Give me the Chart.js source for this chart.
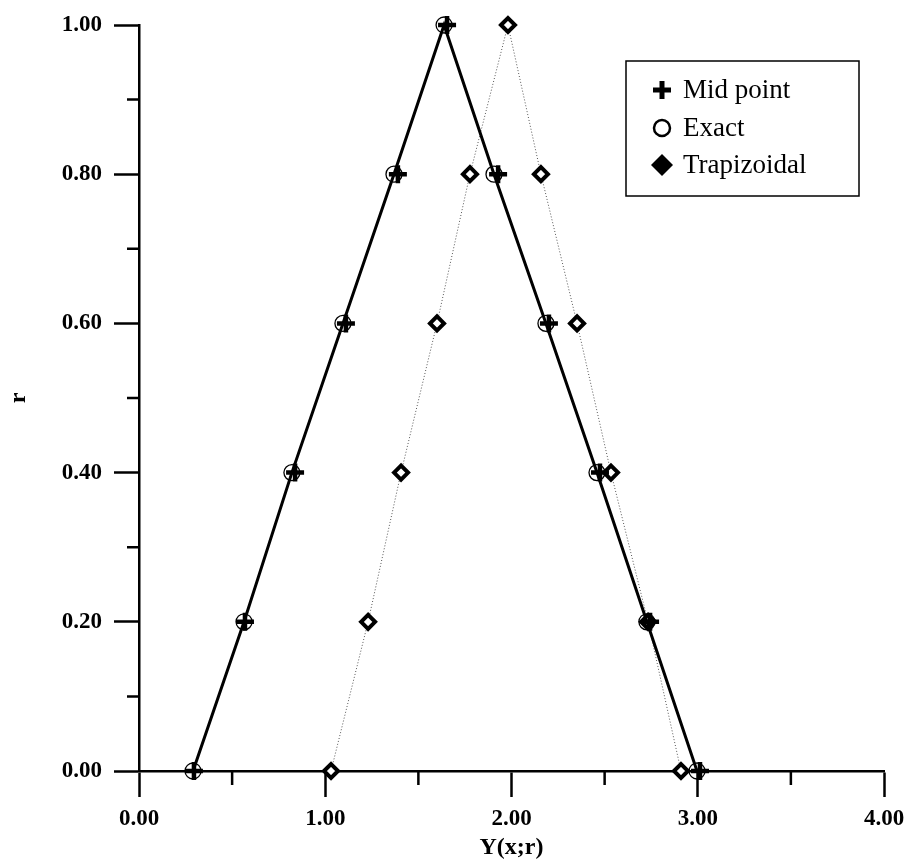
<!DOCTYPE html>
<html>
<head>
<meta charset="utf-8">
<script src="https://cdn.jsdelivr.net/npm/chart.js@4.4.0/dist/chart.umd.min.js"></script>
<style>
  html, body { margin: 0; padding: 0; background: #fff; }
  canvas { display: block; }
</style>
</head>
<body>
<canvas id="c" width="908" height="865"></canvas>
<script>
// ---- data ----
const rValues   = [0.0, 0.2, 0.4, 0.6, 0.8, 1.0, 0.8, 0.6, 0.4, 0.2, 0.0];
const midPointY = [0.295, 0.569, 0.838, 1.111, 1.390, 1.654, 1.928, 2.201, 2.475, 2.744, 3.012];
const exactY    = [0.290, 0.564, 0.821, 1.095, 1.369, 1.638, 1.906, 2.185, 2.459, 2.727, 2.996];
const trapY     = [1.031, 1.230, 1.407, 1.600, 1.777, 1.981, 2.158, 2.352, 2.534, 2.733, 2.910];
const seriesLabels = ['Mid point', 'Exact', 'Trapizoidal'];
const xTickValues = [0, 1, 2, 3, 4];
const yTickValues = [0, 0.2, 0.4, 0.6, 0.8, 1.0];
const xMinorTicks = [0.5, 1.5, 2.5, 3.5];
const yMinorTicks = [0.1, 0.3, 0.5, 0.7, 0.9];

const toPts = (xs) => xs.map((x, i) => ({ x: x, y: rValues[i] }));

const tickFont = { family: '"Liberation Serif", "Times New Roman", serif', size: 23, weight: 'bold' };
const titleFont = { family: '"Liberation Serif", "Times New Roman", serif', size: 24, weight: 'bold' };

const minorTicksPlugin = {
  id: 'minorTicks',
  afterDraw(chart) {
    const ctx = chart.ctx;
    const xs = chart.scales.x, ys = chart.scales.y;
    ctx.save();
    ctx.strokeStyle = '#000';
    ctx.lineWidth = 2.5;
    ctx.beginPath();
    xMinorTicks.forEach(v => {
      const px = xs.getPixelForValue(v);
      ctx.moveTo(px, ys.bottom);
      ctx.lineTo(px, ys.bottom + 14);
    });
    yMinorTicks.forEach(v => {
      const py = ys.getPixelForValue(v);
      ctx.moveTo(xs.left, py);
      ctx.lineTo(xs.left - 12, py);
    });
    ctx.stroke();
    ctx.restore();
  }
};

const legendPlugin = {
  id: 'customLegend',
  afterDraw(chart) {
    const ctx = chart.ctx;
    ctx.save();
    ctx.strokeStyle = '#000';
    ctx.lineWidth = 1.5;
    ctx.strokeRect(626, 61, 233, 135);
    const rows = [90, 128, 165];
    const mx = 662;
    ctx.fillStyle = '#000';
    ctx.strokeStyle = '#000';
    // plus
    ctx.lineWidth = 5;
    ctx.beginPath();
    ctx.moveTo(mx - 9, rows[0]); ctx.lineTo(mx + 9, rows[0]);
    ctx.moveTo(mx, rows[0] - 9); ctx.lineTo(mx, rows[0] + 9);
    ctx.stroke();
    // circle
    ctx.lineWidth = 2.5;
    ctx.beginPath();
    ctx.arc(mx, rows[1], 8, 0, Math.PI * 2);
    ctx.stroke();
    // diamond
    ctx.beginPath();
    ctx.moveTo(mx, rows[2] - 11);
    ctx.lineTo(mx + 11, rows[2]);
    ctx.lineTo(mx, rows[2] + 11);
    ctx.lineTo(mx - 11, rows[2]);
    ctx.closePath();
    ctx.fill();
    ctx.font = '27px "Liberation Serif", "Times New Roman", serif';
    ctx.textBaseline = 'middle';
    ctx.textAlign = 'left';
    seriesLabels.forEach((t, i) => ctx.fillText(t, 683, rows[i] + 1));
    ctx.restore();
  }
};

new Chart(document.getElementById('c'), {
  type: 'scatter',
  data: {
    datasets: [
      {
        label: seriesLabels[0],
        data: toPts(midPointY),
        showLine: false,
        clip: false,
        pointStyle: 'cross',
        pointRadius: 9,
        pointBorderWidth: 4.5,
        pointBackgroundColor: '#000',
        pointBorderColor: '#000'
      },
      {
        label: seriesLabels[1],
        data: toPts(exactY),
        showLine: true,
        clip: false,
        borderColor: '#000',
        borderWidth: 3,
        pointStyle: 'circle',
        pointRadius: 8,
        pointBorderWidth: 1.3,
        pointBackgroundColor: 'rgba(0,0,0,0)',
        pointBorderColor: '#000'
      },
      {
        label: seriesLabels[2],
        data: toPts(trapY),
        showLine: true,
        clip: false,
        borderColor: '#555',
        borderWidth: 1,
        borderDash: [1, 2],
        pointStyle: 'rectRot',
        pointRadius: 7,
        pointBorderWidth: 4,
        pointBackgroundColor: '#fff',
        pointBorderColor: '#000'
      }
    ]
  },
  options: {
    responsive: false,
    animation: false,
    layout: { padding: { top: 25, right: 24, left: 0, bottom: 0 } },
    plugins: { legend: { display: false }, tooltip: { enabled: false } },
    scales: {
      x: {
        type: 'linear', min: 0, max: 4,
        afterFit(s) { s.height = 94; s.paddingLeft = 0; s.paddingRight = 0; },
        afterBuildTicks(s) { s.ticks = xTickValues.map(v => ({ value: v })); },
        ticks: { stepSize: 1, color: '#000', font: tickFont, padding: 8,
                 maxRotation: 0, callback: v => Number(v).toFixed(2) },
        grid: { drawOnChartArea: false, drawTicks: true, tickLength: 26,
                tickColor: '#000', tickWidth: 2.5, color: '#000' },
        border: { display: true, color: '#000', width: 2.5 },
        title: { display: true, text: 'Y(x;r)', color: '#000', font: titleFont,
                 padding: { top: 0, bottom: 3 } }
      },
      y: {
        type: 'linear', min: 0, max: 1,
        afterFit(s) { s.width = 139; s.paddingTop = 0; s.paddingBottom = 0; },
        afterBuildTicks(s) { s.ticks = yTickValues.map(v => ({ value: v })); },
        ticks: { stepSize: 0.2, color: '#000', font: tickFont, padding: 12,
                 callback: v => Number(v).toFixed(2) },
        grid: { drawOnChartArea: false, drawTicks: true, tickLength: 25,
                tickColor: '#000', tickWidth: 2.5, color: '#000' },
        border: { display: true, color: '#000', width: 2.5 },
        title: { display: true, text: 'r', color: '#000', font: titleFont,
                 padding: { top: 4, bottom: 0 } }
      }
    }
  },
  plugins: [minorTicksPlugin, legendPlugin]
});
</script>
</body>
</html>
